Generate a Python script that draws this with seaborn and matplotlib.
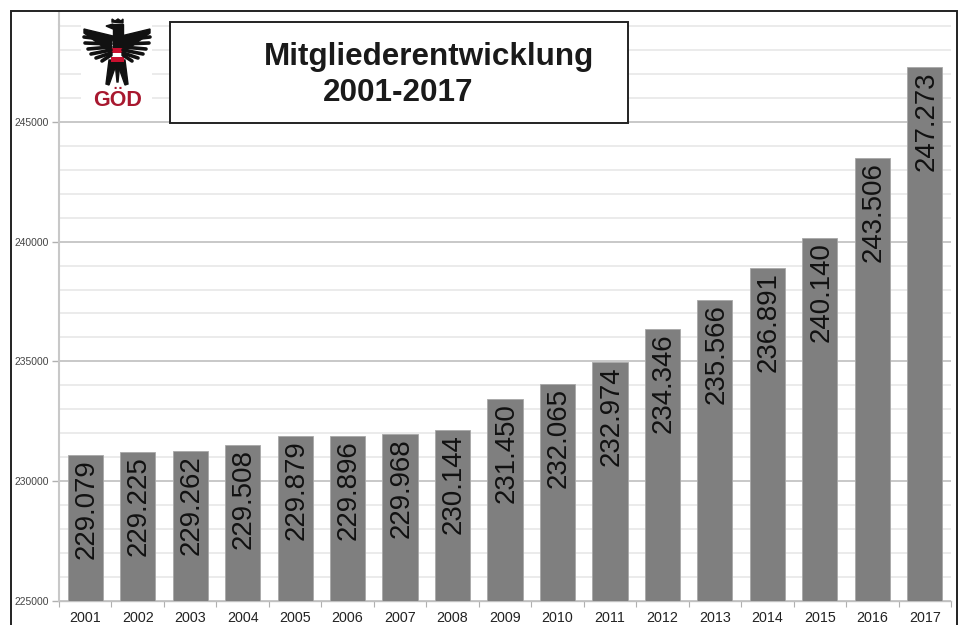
import matplotlib
matplotlib.use("Agg")
import matplotlib.pyplot as plt
from matplotlib.patches import Polygon, Rectangle
import pandas as pd
import seaborn as sns

# Daten: Balkenhoehe, Beschriftung wie im Bild gedruckt
jahre = ["2001", "2002", "2003", "2004", "2005", "2006", "2007", "2008", "2009",
         "2010", "2011", "2012", "2013", "2014", "2015", "2016", "2017"]
balken = [231079, 231225, 231262, 231508, 231879, 231896, 231968, 232144, 233450,
          234065, 234974, 236346, 237566, 238891, 240140, 243506, 247273]
beschriftung = ["229.079", "229.225", "229.262", "229.508", "229.879", "229.896",
                "229.968", "230.144", "231.450", "232.065", "232.974", "234.346",
                "235.566", "236.891", "240.140", "243.506", "247.273"]
haupt_ticks = [225000, 230000, 235000, 240000, 245000]
neben_ticks = [226000, 227000, 228000, 229000, 231000, 232000, 233000, 234000, 236000,
               237000, 238000, 239000, 241000, 242000, 243000, 244000, 246000, 247000,
               248000, 249000]

sns.set_theme(style="white")
plt.rcParams["font.family"] = ["Liberation Sans", "DejaVu Sans"]

df = pd.DataFrame({"jahr": jahre, "wert": balken})

fig = plt.figure(figsize=(9.63, 6.25), dpi=100, facecolor="white")
ax = fig.add_axes([59 / 963, 1 - 601 / 625, (951 - 59) / 963, (601 - 25) / 625])

sns.barplot(data=df, x="jahr", y="wert", color="#7f7f7f", saturation=1, width=0.67,
            edgecolor="#a8a8a8", linewidth=0.6, ax=ax, zorder=3)
ax.set_ylim(225000, 249040)
ax.set_xlim(-0.5, 16.5)
ax.set_xlabel("")
ax.set_ylabel("")

# Achsen
ax.set_yticks(haupt_ticks)
ax.set_yticks(neben_ticks, minor=True)
ax.set_xticks(range(len(jahre)), jahre)
ax.set_xticks([i - 0.5 for i in range(len(jahre) + 1)], minor=True)
ax.yaxis.grid(True, which="major", color="#c4c4c4", linewidth=1.3, zorder=0)
ax.yaxis.grid(True, which="minor", color="#e6e6e6", linewidth=1.1, zorder=0)
ax.set_axisbelow(True)
ax.tick_params(axis="x", which="major", length=0, pad=7.2, labelsize=10.3, labelcolor="#222222")
ax.tick_params(axis="x", which="minor", length=4, width=0.8, color="#b0b0b0", bottom=True)
ax.tick_params(axis="y", which="major", length=5, width=1, color="#b0b0b0", left=True,
               pad=2.5, labelsize=7.4, labelcolor="#444444")
ax.tick_params(axis="y", which="minor", length=0)
for s in ["top", "right"]:
    ax.spines[s].set_visible(False)
ax.spines["left"].set_color("#c8c8c8")
ax.spines["left"].set_linewidth(1.5)
ax.spines["bottom"].set_color("#c0c0c0")
ax.spines["bottom"].set_linewidth(1)

# Werte in den Balken
for i, (w, t) in enumerate(zip(balken, beschriftung)):
    ax.annotate(t, (i, w), xytext=(1, -3), textcoords="offset points", rotation=90,
                ha="center", va="top", fontsize=19.9, color="#111111", zorder=5)

# Overlay in Pixelkoordinaten fuer Rahmen, Titelbox und Logo
ov = fig.add_axes([0, 0, 1, 1], facecolor="none")
ov.set_xlim(0, 963)
ov.set_ylim(625, 0)
ov.axis("off")

ov.plot([59, 59], [12, 25], color="#c8c8c8", lw=1.5)
ov.plot([11, 11, 957, 957], [625, 11, 11, 625], color="#222222", lw=1.4, solid_joinstyle="miter")

ov.add_patch(Rectangle((170, 22), 458, 101, facecolor="white", edgecolor="#222222", lw=1.4))
ov.text(429, 57, "Mitgliederentwicklung", ha="center", va="center", fontsize=22.6,
        fontweight="bold", color="#1a1a1a")
ov.text(398, 93, "2001-2017", ha="center", va="center", fontsize=22.6,
        fontweight="bold", color="#1a1a1a")

# Logo GOED (Adler grob nachgezeichnet)
ov.add_patch(Rectangle((81, 19), 71, 93, facecolor="white", edgecolor="none"))
schwarz = "#111111"
for sx in (-1, 1):
    mx = lambda v: 117 + sx * v
    ov.add_patch(Polygon([(mx(4), 36), (mx(33), 29), (mx(33), 33), (mx(7), 52)], color=schwarz))
    for (x0, y0, x1, y1) in [(6, 40, 33, 37), (6, 44, 32, 43), (6, 47, 29, 49),
                             (6, 50, 26, 54), (6, 53, 21, 58), (6, 55, 15, 61)]:
        ov.plot([mx(x0), mx(x1)], [y0, y1], color=schwarz, lw=2.6, solid_capstyle="round")
    ov.add_patch(Polygon([(mx(2), 60), (mx(8), 60), (mx(11), 84), (mx(8), 85), (mx(2), 68)],
                         color=schwarz))
ov.add_patch(Rectangle((113, 24), 10, 40, color=schwarz))
ov.add_patch(Polygon([(113, 24), (106, 26), (113, 29)], color=schwarz))
ov.add_patch(Polygon([(112, 22), (112, 19), (115, 21), (118, 19), (121, 21), (123, 19), (123, 23)],
                     color=schwarz))
ov.add_patch(Polygon([(115, 62), (120, 62), (118, 82), (117, 82)], color=schwarz))
ov.add_patch(Rectangle((111, 48), 13, 14, color="#c8102e", ec="none"))
ov.add_patch(Rectangle((111, 52.5), 13, 4.5, color="white", ec="none"))
ov.text(117.5, 100, "GÖD", ha="center", va="center", fontsize=15.5, fontweight="bold",
        color="#a8182f")

fig.savefig("out.png", dpi=100)
